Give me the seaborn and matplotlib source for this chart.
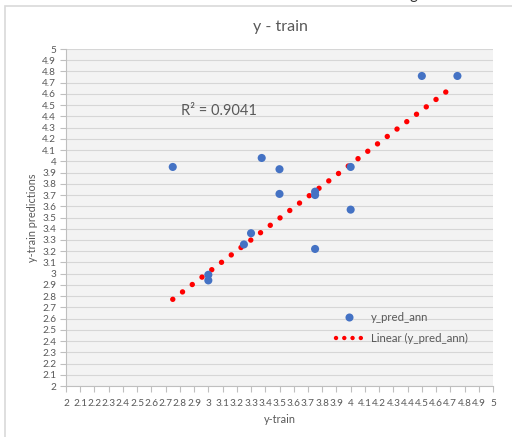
import numpy as np
import pandas as pd
import matplotlib
matplotlib.use("Agg")
import matplotlib.pyplot as plt
import matplotlib.patches as mpatches
from matplotlib.lines import Line2D
import seaborn as sns

# ---- data ----
y_train = [2.75, 3.0, 3.0, 3.25, 3.3, 3.375, 3.5, 3.5, 3.75, 3.75, 3.75, 4.0, 4.0, 4.5, 4.75]
y_pred_ann = [3.95, 2.99, 2.94, 3.26, 3.36, 4.03, 3.93, 3.71, 3.73, 3.70, 3.22, 3.95, 3.57, 4.76, 4.76]
trend_slope = 0.962
trend_intercept = 0.126
trend_x_range = [2.75, 4.71]
r_squared = "0.9041"
tick_values = [round(2 + 0.1 * i, 1) for i in range(31)]
tick_labels = ["%g" % v for v in tick_values]

df = pd.DataFrame({"y-train": y_train, "y_pred_ann": y_pred_ann})

sns.set_theme(style="white")
plt.rcParams["font.family"] = ["Lato", "DejaVu Sans"]

fig = plt.figure(figsize=(5.12, 4.37), dpi=100)
ax = fig.add_axes([66 / 512, 1 - 386 / 437, (493 - 66) / 512, (386 - 49) / 437])
ax.set_facecolor("#f3f3f3")

# outer chart border
fig.patches.append(mpatches.Rectangle((5 / 512, -0.2), 1.2, 1 - 5.5 / 437 + 0.2,
                                      transform=fig.transFigure, fill=False,
                                      edgecolor="#d9d9d9", linewidth=1.2))

# gridlines
for v in tick_values:
    ax.axhline(v, color="#d6d6d6", linewidth=0.8, zorder=0)

# trend line
tx = np.array(trend_x_range)
ty = trend_slope * tx + trend_intercept
ax.plot(tx, ty, color="#ff0000", linewidth=3.9, linestyle=(0, (0.01, 2.25)),
        dash_capstyle="round", zorder=2)

sns.scatterplot(data=df, x="y-train", y="y_pred_ann", ax=ax, color="#4472c4",
                s=34, edgecolor="none", zorder=3, legend=False)

ax.set_xlim(2, 5)
ax.set_ylim(2, 5)
ax.set_xticks(tick_values)
ax.set_xticklabels(tick_labels, fontsize=7.2, color="#595959")
ax.set_yticks(tick_values)
ax.set_yticklabels(tick_labels, fontsize=7.2, color="#595959")
ax.tick_params(axis="both", length=4, width=0.8, color="#bfbfbf", pad=3, bottom=True, left=True)
ax.tick_params(axis="x", pad=5)

for s in ["top", "right"]:
    ax.spines[s].set_visible(False)
for s in ["left", "bottom"]:
    ax.spines[s].set_color("#bfbfbf")
    ax.spines[s].set_linewidth(0.8)

ax.set_xlabel("y-train", fontsize=7.8, color="#595959", labelpad=5)
ax.set_ylabel("y-train predictions", fontsize=7.8, color="#595959", labelpad=3)
fig.text(280 / 512, 1 - 27 / 437, "y - train", ha="center", va="center",
         fontsize=11.5, color="#595959")

ax.text(2.81, 4.45, "R² = " + r_squared, fontsize=10.5, color="#595959", va="center")

# legend
h_scatter = Line2D([], [], linestyle="none", marker="o", markersize=5.8,
                   markerfacecolor="#4472c4", markeredgecolor="none")
h_line = Line2D([], [], color="#ff0000", linewidth=3.2, linestyle=(0, (0.01, 1.85)),
                dash_capstyle="round")
ax.legend([h_scatter, h_line], ["y_pred_ann", "Linear (y_pred_ann)"],
          loc="center left", bbox_to_anchor=(0.632, 0.172), frameon=False,
          borderaxespad=0, borderpad=0,
          fontsize=8.2, labelcolor="#595959", handlelength=2.3, handletextpad=0.8,
          labelspacing=0.85)

fig.text(413 / 512, 1 + 1.5 / 437, "g", ha="center", va="baseline", fontsize=11,
         color="#333333")

fig.savefig("out.png", dpi=100)
